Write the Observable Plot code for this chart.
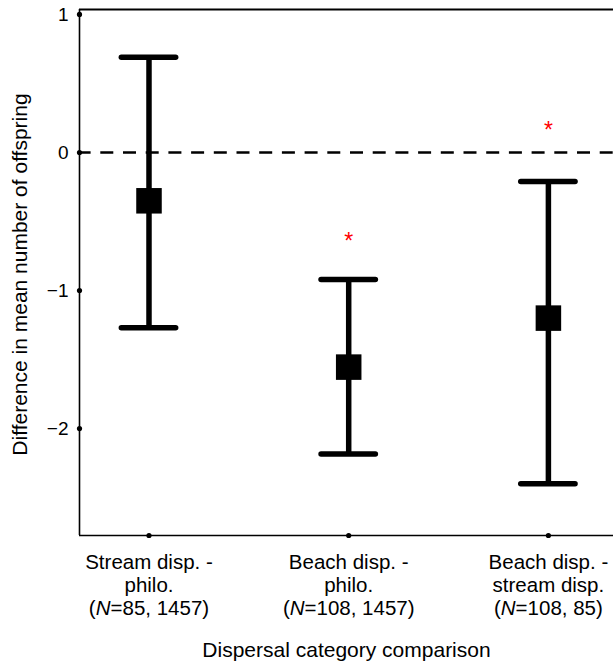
<!DOCTYPE html>
<html>
<head>
<meta charset="utf-8">
<script src="https://cdn.jsdelivr.net/npm/d3@7"></script>
<script src="https://cdn.jsdelivr.net/npm/@observablehq/plot@0.6"></script>
<style>
  html, body { margin: 0; padding: 0; background: white; }
</style>
</head>
<body>
<div id="chart"></div>
<script>
// ---- Data ----
const categoryLabels = [
  "Stream disp. -\nphilo.\n(N=85, 1457)",
  "Beach disp. -\nphilo.\n(N=108, 1457)",
  "Beach disp. -\nstream disp.\n(N=108, 85)"
];
const positions = [1, 2, 3];
const means = [-0.35, -1.555, -1.20];
const lower = [-1.27, -2.185, -2.40];
const upper = [0.69, -0.92, -0.21];
const starY = [null, -0.61, 0.195];
const yTicks = [1, 0, -1, -2];
const xTitle = "Dispersal category comparison";
const yTitle = "Difference in mean number of offspring";

const xDomain = [0.652, 3.326];
const yDomain = [-2.775, 1.036];
const capHalf = 0.136;

const rows = positions.map((x, i) => ({x, mean: means[i], lo: lower[i], hi: upper[i], star: starY[i]}));
const stars = rows.filter(d => d.star != null);

const plot = Plot.plot({
  width: 613,
  height: 662,
  marginLeft: 79,
  marginRight: 0,
  marginTop: 9,
  marginBottom: 127,
  style: {fontFamily: "'Liberation Sans', Arial, Helvetica, sans-serif", background: "white", color: "black"},
  x: {type: "linear", domain: xDomain},
  y: {domain: yDomain},
  marks: [
    // zero reference line
    Plot.ruleY([0], {stroke: "black", strokeWidth: 2.6, strokeDasharray: "13,9.7", strokeDashoffset: 1.4}),
    // frame lines (top, bottom, left)
    Plot.ruleY([yDomain[1]], {stroke: "black", strokeWidth: 1.8}),
    Plot.ruleY([yDomain[0]], {stroke: "black", strokeWidth: 1.6}),
    Plot.ruleX([xDomain[0]], {stroke: "black", strokeWidth: 1.6}),
    // tick dots
    Plot.dot(yTicks, {x: () => xDomain[0], y: d => d, r: 2.6, fill: "black", stroke: null}),
    Plot.dot(positions, {x: d => d, y: () => yDomain[0], r: 2.6, fill: "black", stroke: null}),
    // error bars
    Plot.ruleX(rows, {x: "x", y1: "lo", y2: "hi", stroke: "black", strokeWidth: 5.5}),
    Plot.ruleY(rows, {y: "hi", x1: d => d.x - capHalf, x2: d => d.x + capHalf, stroke: "black", strokeWidth: 5.5, strokeLinecap: "round"}),
    Plot.ruleY(rows, {y: "lo", x1: d => d.x - capHalf, x2: d => d.x + capHalf, stroke: "black", strokeWidth: 5.5, strokeLinecap: "round"}),
    // means
    Plot.dot(rows, {x: "x", y: "mean", symbol: "square", r: 14.4, fill: "black", stroke: null}),
    // significance stars
    Plot.text(stars, {x: "x", y: "star", text: () => "*", fill: "red", fontSize: 23, dy: 5}),
    // axes
    Plot.axisY({ticks: yTicks, tickSize: 0, tickPadding: 11, fontSize: 19, label: null,
                tickFormat: d => d < 0 ? "\u2212" + (-d) : String(d)}),
    Plot.axisX({ticks: positions, tickSize: 0, tickPadding: 17, fontSize: 20.5, lineHeight: 1.13,
                tickFormat: d => categoryLabels[d - 1], label: null}),
    // axis titles
    Plot.text([xTitle], {frameAnchor: "bottom", dy: 115, fontSize: 21, lineAnchor: "middle", textAnchor: "middle"}),
    Plot.text([yTitle], {frameAnchor: "left", rotate: -90, dx: -59, dy: 2, fontSize: 21, lineAnchor: "middle", textAnchor: "middle"})
  ]
});

// italic "N" in the sample-size lines
plot.querySelectorAll("tspan, text").forEach(el => {
  if (el.children.length === 0 && el.textContent.startsWith("(N=")) {
    const rest = el.textContent.slice(2);
    el.textContent = "(";
    const it = document.createElementNS("http://www.w3.org/2000/svg", "tspan");
    it.setAttribute("font-style", "italic");
    it.textContent = "N";
    el.appendChild(it);
    el.appendChild(document.createTextNode(rest));
  }
});

document.getElementById("chart").appendChild(plot);
</script>
</body>
</html>
